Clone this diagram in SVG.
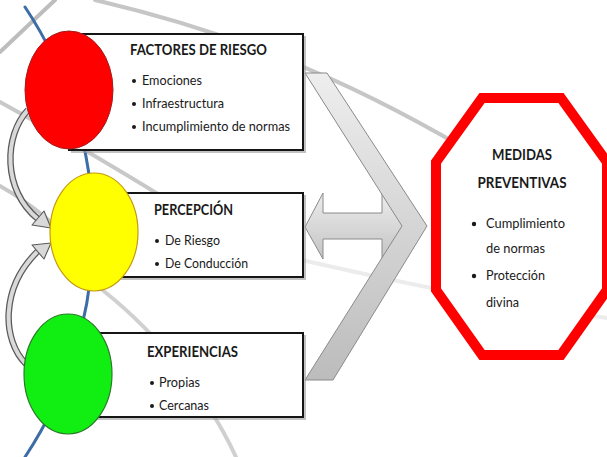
<svg xmlns="http://www.w3.org/2000/svg" width="607" height="457" viewBox="0 0 607 457">
<defs>
<style>
.bg{fill:none;stroke-linecap:round}
.box{fill:#fff;stroke:#151515;stroke-width:2}
.shadow{fill:#9a9a9a;opacity:0.6}
.t{font-family:Lato,"Open Sans","Liberation Sans",sans-serif;fill:#1a1a1a}
.h{font-size:14.5px;font-weight:bold}
.b{font-size:12.5px}
.dot{fill:#1a1a1a}
.band{fill:none;stroke:#5a5a5a;stroke-width:6.5;stroke-linecap:butt}
.bandin{fill:none;stroke:#d9d9d9;stroke-width:4;stroke-linecap:butt}
.head{fill:#d9d9d9;stroke:#5a5a5a;stroke-width:1.1;stroke-linejoin:round}
</style>
<linearGradient id="gch" x1="0" y1="0" x2="0" y2="1">
<stop offset="0" stop-color="#eeeeee"/>
<stop offset="1" stop-color="#bcbcbc"/>
</linearGradient>
<linearGradient id="gar" x1="0" y1="0" x2="0" y2="1">
<stop offset="0" stop-color="#ececec"/>
<stop offset="1" stop-color="#c4c4c4"/>
</linearGradient>
</defs>
<rect width="607" height="457" fill="#fff"/>
<g id="background">
<path class="bg" d="M0,52 L55,0" stroke="#bdbdbd" stroke-width="4"/>
<path class="bg" d="M95,0 C 250,36 400,95 607,240" stroke="#c6c6c6" stroke-width="4"/>
<path class="bg" d="M280,255 C 380,278 480,300 607,318" stroke="#ececec" stroke-width="4"/>
<path class="bg" d="M0,102 C 60,135 120,170 200,220" stroke="#c8c8c8" stroke-width="4"/>
<path class="bg" d="M0,186 C 30,203 60,228 85,255" stroke="#c8c8c8" stroke-width="4"/>
<path class="bg" d="M92,282 C 150,325 205,390 236,457" stroke="#d0d0d0" stroke-width="4"/>
<path class="bg" d="M25,7 A406,406 0 0 1 25,457" stroke="#3d6ca6" stroke-width="3"/>
</g>
<g id="connectors">
<path class="band" d="M28,110 C 4,135 2,190 38,219"/>
<path class="bandin" d="M28,110 C 4,135 2,190 38,219"/>
<polygon class="head" points="44,211 51,228 32,225"/>
<path class="band" d="M26,364 C 2,340 0,288 38,251"/>
<path class="bandin" d="M26,364 C 2,340 0,288 38,251"/>
<polygon class="head" points="32,245 51,243 44,259"/>
<polygon id="double-arrow" points="305,227 323,193 323,213 382,213 382,193 415,227 382,259 382,239 323,239 323,259" fill="url(#gar)" stroke="#8a8a8a" stroke-width="1"/>
<polygon id="chevron" points="305,73 327,73 427,226 333,380 305,380 402,226" fill="url(#gch)" stroke="#8a8a8a" stroke-width="1"/>
</g>
<g id="node-factores">
<rect class="shadow" x="71" y="36" width="235" height="117"/>
<rect class="box" x="69" y="34" width="234" height="116"/>
<ellipse cx="69" cy="90" rx="44" ry="59" fill="#ff0000" stroke="#a11d1d" stroke-width="1"/>
<text class="t h" x="130" y="55" textLength="137" lengthAdjust="spacingAndGlyphs">FACTORES DE RIESGO</text>
<circle class="dot" cx="134" cy="81" r="2"/>
<text class="t b" x="142" y="85" textLength="60" lengthAdjust="spacingAndGlyphs">Emociones</text>
<circle class="dot" cx="134" cy="104" r="2"/>
<text class="t b" x="142" y="108" textLength="82" lengthAdjust="spacingAndGlyphs">Infraestructura</text>
<circle class="dot" cx="134" cy="127" r="2"/>
<text class="t b" x="142" y="131" textLength="148" lengthAdjust="spacingAndGlyphs">Incumplimiento de normas</text>
</g>
<g id="node-percepcion">
<rect class="shadow" x="96" y="195" width="210" height="85"/>
<rect class="box" x="94" y="193" width="209" height="84"/>
<ellipse cx="94" cy="232" rx="44" ry="59" fill="#ffff00" stroke="#c39a12" stroke-width="1.2"/>
<text class="t h" x="154" y="215" textLength="79" lengthAdjust="spacingAndGlyphs">PERCEPCIÓN</text>
<circle class="dot" cx="157" cy="241" r="2"/>
<text class="t b" x="165" y="245" textLength="55" lengthAdjust="spacingAndGlyphs">De Riesgo</text>
<circle class="dot" cx="157" cy="264" r="2"/>
<text class="t b" x="165" y="268" textLength="83" lengthAdjust="spacingAndGlyphs">De Conducción</text>
</g>
<g id="node-experiencias">
<rect class="shadow" x="70" y="335" width="236" height="85"/>
<rect class="box" x="68" y="333" width="235" height="84"/>
<ellipse cx="68" cy="374" rx="44" ry="60" fill="#11ee11" stroke="#2a7a2a" stroke-width="1.2"/>
<text class="t h" x="147" y="357" textLength="91" lengthAdjust="spacingAndGlyphs">EXPERIENCIAS</text>
<circle class="dot" cx="152" cy="383" r="2"/>
<text class="t b" x="159" y="387" textLength="41" lengthAdjust="spacingAndGlyphs">Propias</text>
<circle class="dot" cx="152" cy="406" r="2"/>
<text class="t b" x="159" y="410" textLength="50" lengthAdjust="spacingAndGlyphs">Cercanas</text>
</g>
<g id="node-medidas">
<polygon points="482,98 561,98 607,162 607,290 561,355 482,355 436,290 436,162" fill="#fff" stroke="#ff0000" stroke-width="10" stroke-linejoin="miter"/>
<text class="t h" x="522" y="160" text-anchor="middle" textLength="60" lengthAdjust="spacingAndGlyphs">MEDIDAS</text>
<text class="t h" x="522" y="188" text-anchor="middle" textLength="89" lengthAdjust="spacingAndGlyphs">PREVENTIVAS</text>
<circle class="dot" cx="474" cy="224" r="2.2"/>
<text class="t b" x="486" y="228" textLength="79" lengthAdjust="spacingAndGlyphs">Cumplimiento</text>
<text class="t b" x="486" y="253" textLength="59" lengthAdjust="spacingAndGlyphs">de normas</text>
<circle class="dot" cx="474" cy="276" r="2.2"/>
<text class="t b" x="486" y="280" textLength="59" lengthAdjust="spacingAndGlyphs">Protección</text>
<text class="t b" x="486" y="307" textLength="33" lengthAdjust="spacingAndGlyphs">divina</text>
</g>
</svg>
